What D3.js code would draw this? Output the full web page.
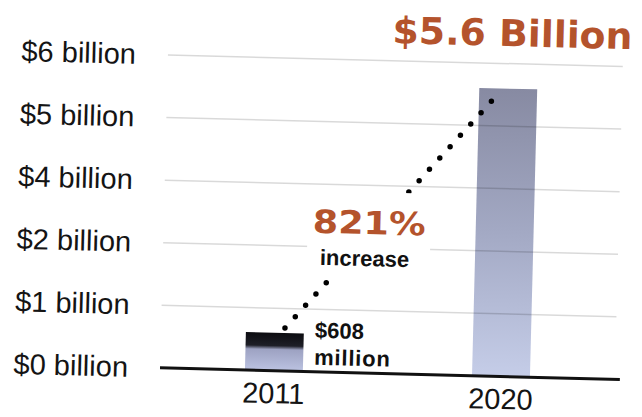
<!DOCTYPE html>
<html>
<head>
<meta charset="utf-8">
<script src="https://cdn.jsdelivr.net/npm/d3@7"></script>
<style>
  html, body { margin: 0; padding: 0; background: #fff; }
  svg { display: block; }
</style>
</head>
<body>
<svg id="chart" width="642" height="417"></svg>
<script>
// Annual spending, in billions of dollars
const years = ["2011", "2020"];
const spending = [0.608, 5.6];

// Axis ticks (evenly spaced rows; the scale is piecewise between them)
const tickValues = [0, 1, 2, 4, 5, 6];
const tickLabels = ["$0 billion", "$1 billion", "$2 billion", "$4 billion", "$5 billion", "$6 billion"];

// Callout texts
const headline = "$5.6 Billion";
const growthPct = "821%";
const growthWord = "increase";
const startLabel = ["$608", "million"];

const svg = d3.select("#chart");
const W = 642, H = 417;
svg.append("rect").attr("width", W).attr("height", H).attr("fill", "#fff");

const x0 = 160, x1 = 615, yBase = 368, yTop = 55;

const x = d3.scaleBand().domain(years).range([x0, x1])
  .paddingInner(0.745).paddingOuter(0.374);
const y = d3.scaleLinear().domain(tickValues)
  .range(d3.quantize(d3.interpolateNumber(yBase, yTop), tickValues.length));

const defs = svg.append("defs");
const gNew = defs.append("linearGradient").attr("id", "barNew")
  .attr("x1", 0).attr("y1", 0).attr("x2", 0).attr("y2", 1);
gNew.append("stop").attr("offset", "0%").attr("stop-color", "#878aa2");
gNew.append("stop").attr("offset", "50%").attr("stop-color", "#a3a9c4");
gNew.append("stop").attr("offset", "100%").attr("stop-color", "#c5cde8");
const gOld = defs.append("linearGradient").attr("id", "barOld")
  .attr("x1", 0).attr("y1", 0).attr("x2", 0).attr("y2", 1);
gOld.append("stop").attr("offset", "0%").attr("stop-color", "#0c0c10");
gOld.append("stop").attr("offset", "34%").attr("stop-color", "#1e1f27");
gOld.append("stop").attr("offset", "44%").attr("stop-color", "#9da2c2");
gOld.append("stop").attr("offset", "100%").attr("stop-color", "#bcc3e2");

// whole figure sits at a slight clockwise tilt
const root = svg.append("g").attr("transform", `rotate(1.45, 165, ${yBase})`);

// bars
root.append("g").selectAll("rect").data(years).join("rect")
  .attr("x", d => x(d))
  .attr("y", (d, i) => y(spending[i]))
  .attr("width", x.bandwidth())
  .attr("height", (d, i) => y(0) - y(spending[i]))
  .attr("fill", (d, i) => i === 0 ? "url(#barOld)" : "url(#barNew)");

// gridlines
root.append("g").selectAll("line").data(tickValues.filter(d => d > 0)).join("line")
  .attr("x1", x0).attr("x2", x1)
  .attr("y1", d => y(d)).attr("y2", d => y(d))
  .attr("stroke", "#000").attr("stroke-opacity", 0.15).attr("stroke-width", 1.5);

// baseline
root.append("line")
  .attr("x1", x0).attr("x2", 620)
  .attr("y1", y(0)).attr("y2", y(0))
  .attr("stroke", "#111").attr("stroke-width", 3);

// y axis labels
const yAxis = root.append("g").attr("transform", `translate(${x0},0)`)
  .call(d3.axisLeft(y).tickValues(tickValues)
    .tickFormat((d, i) => tickLabels[i]).tickSize(0).tickPadding(32));
yAxis.select(".domain").remove();
yAxis.selectAll("text")
  .attr("font-family", "'Liberation Sans', Arial, sans-serif")
  .attr("font-size", 29).attr("fill", "#141414");

// x axis labels
const xAxis = root.append("g").attr("transform", `translate(0,${y(0)})`)
  .call(d3.axisBottom(x).tickSize(0).tickPadding(12));
xAxis.select(".domain").remove();
xAxis.selectAll("text")
  .attr("font-family", "'Liberation Sans', Arial, sans-serif")
  .attr("font-size", 29).attr("fill", "#141414");

// dotted growth line from the 2011 bar top to the 2020 bar top
const p0 = [x(years[0]) + x.bandwidth() / 2 + 10, y(spending[0]) - 5];
const p1 = [x(years[1]) + x.bandwidth() / 2 - 6.5, y(spending[1]) + 1.5];
const segLen = Math.hypot(p1[0] - p0[0], p1[1] - p0[1]);
root.append("line")
  .attr("x1", p0[0]).attr("y1", p0[1]).attr("x2", p1[0]).attr("y2", p1[1])
  .attr("stroke", "#000").attr("stroke-width", 5.5)
  .attr("stroke-linecap", "round")
  .attr("stroke-dasharray", `0 ${segLen / 21}`);

// growth callout with a white knock-out behind it
const growth = root.append("g");
const knock = growth.append("rect").attr("fill", "#fff");
growth.append("text")
  .attr("x", 309).attr("y", 229)
  .attr("font-family", "'DejaVu Sans', sans-serif").attr("font-weight", "bold")
  .attr("font-size", 32).attr("fill", "#b4532c")
  .attr("textLength", 113).attr("lengthAdjust", "spacingAndGlyphs")
  .text(growthPct);
growth.append("text")
  .attr("x", 317).attr("y", 261)
  .attr("font-family", "'Liberation Sans', Arial, sans-serif").attr("font-weight", "bold")
  .attr("font-size", 22).attr("fill", "#111")
  .text(growthWord);
const bb = growth.node().getBBox();
knock.attr("x", bb.x - 5).attr("y", bb.y - 12)
  .attr("width", bb.width + 10).attr("height", bb.height + 16);

// 2011 value label
root.append("g").selectAll("text").data(startLabel).join("text")
  .attr("x", x(years[0]) + x.bandwidth() + 11)
  .attr("y", (d, i) => y(0) - 34 + i * 27)
  .attr("font-family", "'Liberation Sans', Arial, sans-serif").attr("font-weight", "bold")
  .attr("font-size", 22).attr("fill", "#111")
  .attr("letter-spacing", (d, i) => i === 1 ? 0.8 : 0)
  .text(d => d);

// 2020 headline value
root.append("text")
  .attr("x", 384).attr("y", 37.5)
  .attr("font-family", "'DejaVu Sans', sans-serif").attr("font-weight", "bold")
  .attr("font-size", 37).attr("fill", "#b4532c")
  .attr("textLength", 240).attr("lengthAdjust", "spacingAndGlyphs")
  .text(headline);
</script>
</body>
</html>
